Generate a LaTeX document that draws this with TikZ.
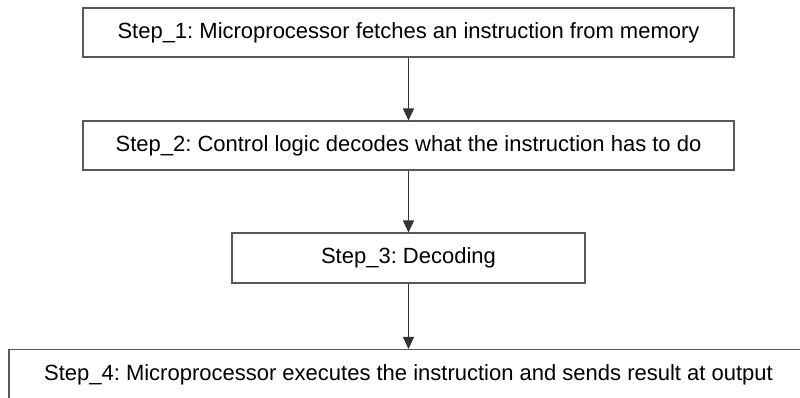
\documentclass[tikz,border=0pt]{standalone}
\usepackage{fontspec}
\setmainfont{Liberation Sans}
\usetikzlibrary{arrows.meta}
\frenchspacing

\tikzset{
  stepbox/.style={draw=black!65, line width=1.1pt, fill=white, inner sep=0pt,
    font=\fontsize{22}{26}\selectfont, text=black},
  flow/.style={draw=black!80, line width=1.1pt,
    -{Triangle[width=11pt,length=12pt]}}
}

\begin{document}
\begin{tikzpicture}[x=1pt,y=-1pt]
  % page frame and clipping window
  \path[use as bounding box, clip] (0,0) rectangle (800,397);
  \fill[white] (0,0) rectangle (800,397);

  % the four steps
  \node[stepbox, minimum width=651pt, minimum height=49pt] (s1) at (408.5,32.5)
    {Step\_1: Microprocessor fetches an instruction from memory};
  \node[stepbox, minimum width=651pt, minimum height=49pt] (s2) at (408.5,145.5)
    {Step\_2: Control logic decodes what the instruction has to do};
  \node[stepbox, minimum width=353pt, minimum height=50pt] (s3) at (408.5,258)
    {Step\_3: Decoding};
  \node[stepbox, minimum width=799pt, minimum height=50pt] (s4) at (408.5,374.5)
    {Step\_4: Microprocessor executes the instruction and sends result at output};

  % connectors
  \draw[flow] (s1.south) -- (s2.north);
  \draw[flow] (s2.south) -- (s3.north);
  \draw[flow] (s3.south) -- (s4.north);
\end{tikzpicture}
\end{document}
